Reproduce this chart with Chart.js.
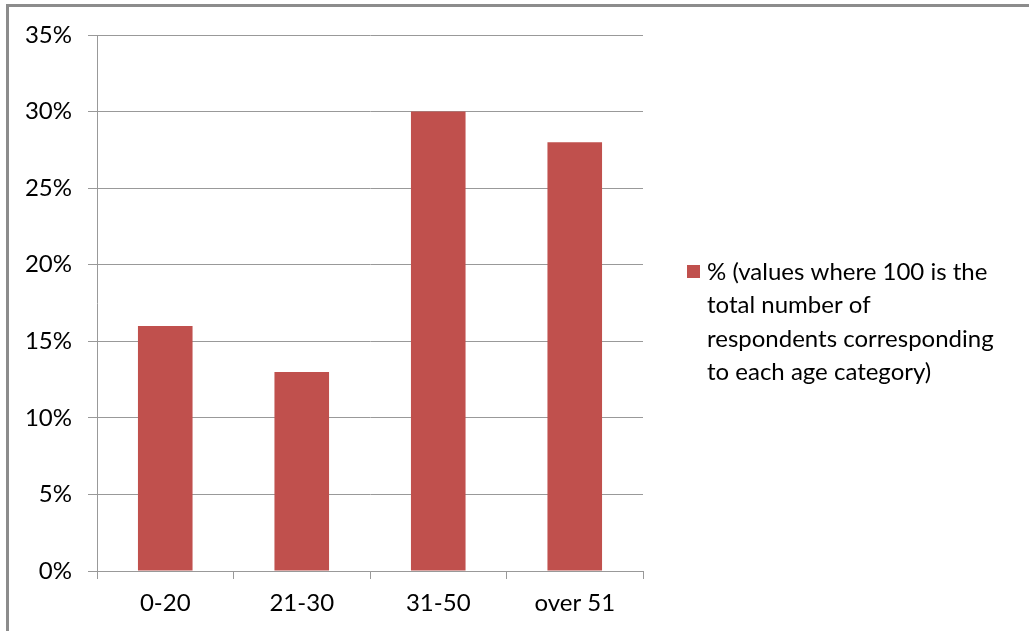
<!DOCTYPE html>
<html>
<head>
<meta charset="utf-8">
<script src="https://cdn.jsdelivr.net/npm/chart.js@4.4.1/dist/chart.umd.min.js"></script>
<style>
  html, body { margin: 0; padding: 0; background: #fff; }
  #wrap { position: absolute; left: 0; top: 0; width: 1029px; height: 631px; }
  #frame { position: absolute; left: 6px; top: 4px; right: 0; bottom: 0;
           border-left: 3px solid #8c8c8c; border-top: 3px solid #8c8c8c; pointer-events: none; }
</style>
</head>
<body>
<div id="wrap">
  <canvas id="barChart" width="1029" height="631"></canvas>
  <div id="frame"></div>
</div>
<script>
const categories = ['0-20', '21-30', '31-50', 'over 51'];
const percentValues = [16, 13, 30, 28];
const yMax = 35;
const yStep = 5;
const legendLines = ['% (values where 100 is the', 'total number of', 'respondents corresponding', 'to each age category)'];

const FONT = 'Lato, "Open Sans", sans-serif';
const BAR_COLOR = '#C0504D';

// draws the wrapped legend to the right of the plot
const sideLegend = {
    id: 'sideLegend',
    afterDraw(chart) {
        const ctx = chart.ctx;
        ctx.save();
        ctx.fillStyle = BAR_COLOR;
        ctx.fillRect(687, 265, 13, 13);
        ctx.fillStyle = '#000';
        ctx.font = '24px ' + FONT;
        ctx.textBaseline = 'middle';
        ctx.textAlign = 'left';
        legendLines.forEach((line, i) => {
            ctx.fillText(line, 707, 272 + i * 33.5);
        });
        ctx.restore();
    }
};

new Chart(document.getElementById('barChart'), {
    type: 'bar',
    data: {
        labels: categories,
        datasets: [{
            label: legendLines.join(' '),
            data: percentValues,
            backgroundColor: BAR_COLOR,
            borderWidth: 0,
            barPercentage: 0.4,
            categoryPercentage: 1
        }]
    },
    options: {
        responsive: false,
        animation: false,
        layout: { padding: { left: 0, top: 35, right: 386, bottom: 0 } },
        plugins: {
            legend: { display: false },
            tooltip: { enabled: false }
        },
        scales: {
            x: {
                afterFit: (s) => { s.height = 60; },
                grid: { offset: true, drawOnChartArea: false, drawTicks: true, tickLength: 8, color: '#999' },
                border: { color: '#999' },
                ticks: { color: '#000', font: { family: FONT, size: 24 }, padding: 10 }
            },
            y: {
                min: 0,
                max: yMax,
                afterFit: (s) => { s.width = 97; },
                grid: { color: '#999', tickLength: 9 },
                border: { color: '#999' },
                ticks: {
                    stepSize: yStep,
                    color: '#000',
                    padding: 16,
                    font: { family: FONT, size: 24 },
                    callback: (v) => v + '%'
                }
            }
        }
    },
    plugins: [sideLegend]
});
</script>
</body>
</html>
